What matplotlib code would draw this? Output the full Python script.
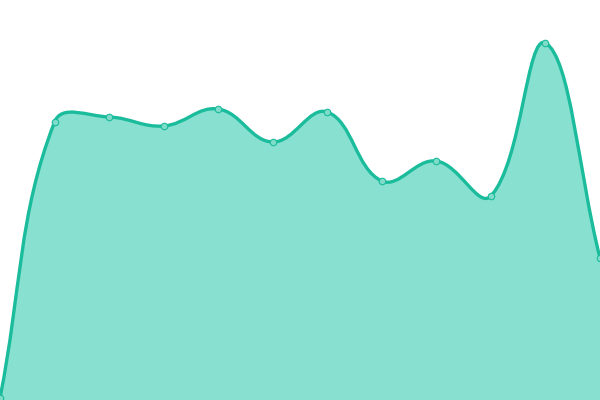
import numpy as np
import matplotlib
matplotlib.use("Agg")
import matplotlib.pyplot as plt
from matplotlib.path import Path
from matplotlib.patches import PathPatch

# data
labels = list(range(12))
values = [2, 278, 283, 274, 291, 258, 288, 219, 239, 204, 357, 142]

line_color = "#1abc9c"
fill_color = "#88e0d0"
point_fill = "#7fdcc9"

W, H = 600, 400
x_max = len(values) - 1
y_max = 400

fig = plt.figure(figsize=(6, 4), dpi=100)
ax = fig.add_axes([0, 0, 1, 1])
ax.set_xlim(0, x_max)
ax.set_ylim(0, y_max)
ax.axis("off")

# spline control points (chart.js style, tension 0.4), distances in pixel space
xs = np.array(labels, dtype=float)
ys = np.array(values, dtype=float)
sx, sy = W / x_max, H / y_max
tension = 0.4
n = len(xs)
c_prev = []
c_next = []
for i in range(n):
    p = (xs[max(i - 1, 0)], ys[max(i - 1, 0)])
    c = (xs[i], ys[i])
    q = (xs[min(i + 1, n - 1)], ys[min(i + 1, n - 1)])
    d01 = np.hypot((c[0] - p[0]) * sx, (c[1] - p[1]) * sy)
    d12 = np.hypot((q[0] - c[0]) * sx, (q[1] - c[1]) * sy)
    tot = d01 + d12
    s01 = d01 / tot if tot else 0
    s12 = d12 / tot if tot else 0
    fa, fb = tension * s01, tension * s12
    c_prev.append((c[0] - fa * (q[0] - p[0]), c[1] - fa * (q[1] - p[1])))
    c_next.append((c[0] + fb * (q[0] - p[0]), c[1] + fb * (q[1] - p[1])))

verts = [(xs[0], ys[0])]
codes = [Path.MOVETO]
for i in range(n - 1):
    verts += [c_next[i], c_prev[i + 1], (xs[i + 1], ys[i + 1])]
    codes += [Path.CURVE4] * 3

line_path = Path(verts, codes)
fill_verts = verts + [(xs[-1], 0), (xs[0], 0), (xs[0], ys[0])]
fill_codes = codes + [Path.LINETO, Path.LINETO, Path.CLOSEPOLY]
ax.add_patch(PathPatch(Path(fill_verts, fill_codes), facecolor=fill_color, edgecolor="none"))
ax.add_patch(PathPatch(line_path, facecolor="none", edgecolor=line_color, lw=2.4, capstyle="round"))

ax.scatter(xs, ys, s=22, color=point_fill, edgecolors=line_color, linewidths=0.8, zorder=5, clip_on=False)

fig.savefig("out.png", dpi=100, facecolor="white")
